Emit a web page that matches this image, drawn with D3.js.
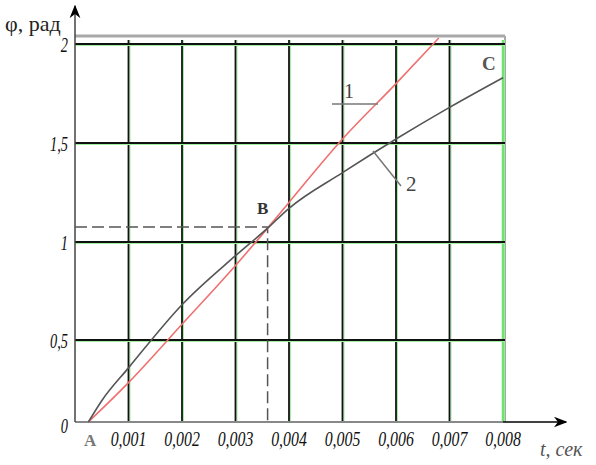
<!DOCTYPE html>
<html>
<head>
<meta charset="utf-8">
<script src="https://cdn.jsdelivr.net/npm/d3@7/dist/d3.min.js"></script>
<style>
  body { margin: 0; background: #fff; }
  svg { display: block; }
  .tick-label { font-family: "Liberation Serif", serif; font-style: italic; fill: #111; }
</style>
</head>
<body>
<script>
// t in seconds, phi in radians
var xTicks = [0.001, 0.002, 0.003, 0.004, 0.005, 0.006, 0.007, 0.008];
var xTickLabels = ["0,001", "0,002", "0,003", "0,004", "0,005", "0,006", "0,007", "0,008"];
var yTicks = [0, 0.5, 1, 1.5, 2];
var yTickLabels = ["0", "0,5", "1", "1,5", "2"];

// curve 1 (red)
var curve1 = [
  [0.00025, 0], [0.001, 0.24], [0.002, 0.58], [0.003, 0.88], [0.0036, 1.07],
  [0.004, 1.2], [0.005, 1.52], [0.006, 1.8], [0.0068, 2.03]
];
// curve 2 (black)
var curve2 = [
  [0.00025, 0], [0.0005, 0.13], [0.001, 0.33], [0.002, 0.68], [0.003, 0.93], [0.0036, 1.07],
  [0.004, 1.17], [0.005, 1.35], [0.006, 1.52], [0.007, 1.68], [0.008, 1.83]
];
var pointB = [0.0036, 1.076];

var width = 596, height = 465;
var svg = d3.select("body").append("svg")
  .attr("width", width)
  .attr("height", height);

var x = d3.scaleLinear().domain([0, 0.008]).range([75, 503]);
// the original drawing has a shorter bottom cell
var y = d3.scaleLinear().domain([0, 0.5, 1, 1.5, 2]).range([422, 340, 242, 143, 44]);

var frameRight = 505, frameTop = 36;

// frame top and right (gray)
svg.append("line").attr("x1", x(0)).attr("x2", frameRight).attr("y1", frameTop).attr("y2", frameTop)
  .attr("stroke", "#a8a8a8").attr("stroke-width", 3);
svg.append("line").attr("x1", frameRight).attr("x2", frameRight).attr("y1", frameTop).attr("y2", y(0))
  .attr("stroke", "#a8a8a8").attr("stroke-width", 2);

// grid: black lines with a thin green shadow
var grid = svg.append("g");
xTicks.forEach(function (t, i) {
  var last = i === xTicks.length - 1;
  grid.append("line").attr("x1", x(t) + 1.5).attr("x2", x(t) + 1.5).attr("y1", 40).attr("y2", y(0))
    .attr("stroke", "#9ff09f").attr("stroke-width", 1);
  grid.append("line").attr("x1", x(t)).attr("x2", x(t)).attr("y1", 40).attr("y2", y(0))
    .attr("stroke", last ? "#6fe36f" : "#111").attr("stroke-width", last ? 2.5 : 1.8);
});
yTicks.slice(1).forEach(function (v) {
  grid.append("line").attr("x1", x(0)).attr("x2", frameRight).attr("y1", y(v) + 1.5).attr("y2", y(v) + 1.5)
    .attr("stroke", "#9ff09f").attr("stroke-width", 1);
  grid.append("line").attr("x1", x(0)).attr("x2", frameRight).attr("y1", y(v)).attr("y2", y(v))
    .attr("stroke", "#111").attr("stroke-width", 1.8);
});

// axes with arrows
svg.append("defs").append("marker")
  .attr("id", "arrow").attr("viewBox", "0 0 10 10").attr("refX", 9).attr("refY", 5)
  .attr("markerWidth", 9).attr("markerHeight", 9).attr("orient", "auto")
  .append("path").attr("d", "M0,1 L10,5 L0,9 L3,5 Z").attr("fill", "#000");

svg.append("line").attr("x1", x(0)).attr("x2", x(0.008)).attr("y1", y(0)).attr("y2", y(0))
  .attr("stroke", "#888").attr("stroke-width", 2);
svg.append("line").attr("x1", x(0.008)).attr("x2", 566).attr("y1", y(0)).attr("y2", y(0))
  .attr("stroke", "#000").attr("stroke-width", 1.5).attr("marker-end", "url(#arrow)");
svg.append("line").attr("x1", x(0)).attr("x2", x(0)).attr("y1", y(0)).attr("y2", 6)
  .attr("stroke", "#444").attr("stroke-width", 1.5).attr("marker-end", "url(#arrow)");

// dashed lines to point B
svg.append("path")
  .attr("d", "M" + x(0) + "," + y(pointB[1]) + "H" + x(pointB[0]) + "V" + y(0))
  .attr("fill", "none").attr("stroke", "#555").attr("stroke-width", 1.5)
  .attr("stroke-dasharray", "12,5");

// curves
var line = d3.line().x(function (d) { return x(d[0]); }).y(function (d) { return y(d[1]); })
  .curve(d3.curveMonotoneX);
svg.append("path").datum(curve1).attr("d", line)
  .attr("fill", "none").attr("stroke", "#f07070").attr("stroke-width", 1.6);
svg.append("path").datum(curve2).attr("d", line)
  .attr("fill", "none").attr("stroke", "#555").attr("stroke-width", 1.6);

// tick labels (tall, narrow italic like the original)
xTicks.forEach(function (t, i) {
  svg.append("text").attr("class", "tick-label").attr("font-size", 22)
    .attr("transform", "translate(" + x(t) + ",446) scale(0.72,1)")
    .attr("text-anchor", "middle").text(xTickLabels[i]);
});
yTicks.forEach(function (v, i) {
  var dy = v === 0 ? 11 : 8;
  svg.append("text").attr("class", "tick-label").attr("font-size", 20)
    .attr("transform", "translate(68," + (y(v) + dy) + ") scale(0.72,1)")
    .attr("text-anchor", "end").text(yTickLabels[i]);
});

// axis titles
svg.append("text").attr("x", 5).attr("y", 31)
  .attr("font-family", "Liberation Serif, serif").attr("font-size", 22).attr("fill", "#222")
  .text("φ, рад");
svg.append("text").attr("x", 540).attr("y", 456)
  .attr("font-family", "Liberation Serif, serif").attr("font-size", 20).attr("fill", "#555")
  .attr("font-style", "italic").text("t, сек");

// point labels
svg.append("text").attr("x", 84).attr("y", 446)
  .attr("font-family", "Liberation Serif, serif").attr("font-size", 17).attr("fill", "#777")
  .attr("font-weight", "bold").text("A");
svg.append("text").attr("x", 257).attr("y", 214)
  .attr("font-family", "Liberation Serif, serif").attr("font-size", 17).attr("fill", "#333")
  .attr("font-weight", "bold").text("B");
svg.append("text").attr("x", 482).attr("y", 70)
  .attr("font-family", "Liberation Serif, serif").attr("font-size", 19).attr("fill", "#555")
  .attr("font-weight", "bold").text("C");

// curve labels with leaders
svg.append("line").attr("x1", 332).attr("x2", 378).attr("y1", 104).attr("y2", 104)
  .attr("stroke", "#777").attr("stroke-width", 1.5);
svg.append("text").attr("x", 344).attr("y", 98)
  .attr("font-family", "Liberation Serif, serif").attr("font-size", 20).attr("fill", "#444").text("1");
svg.append("line").attr("x1", 373).attr("x2", 401).attr("y1", 151).attr("y2", 186)
  .attr("stroke", "#777").attr("stroke-width", 1.5);
svg.append("text").attr("x", 406).attr("y", 191)
  .attr("font-family", "Liberation Serif, serif").attr("font-size", 21).attr("fill", "#444").text("2");
</script>
</body>
</html>
